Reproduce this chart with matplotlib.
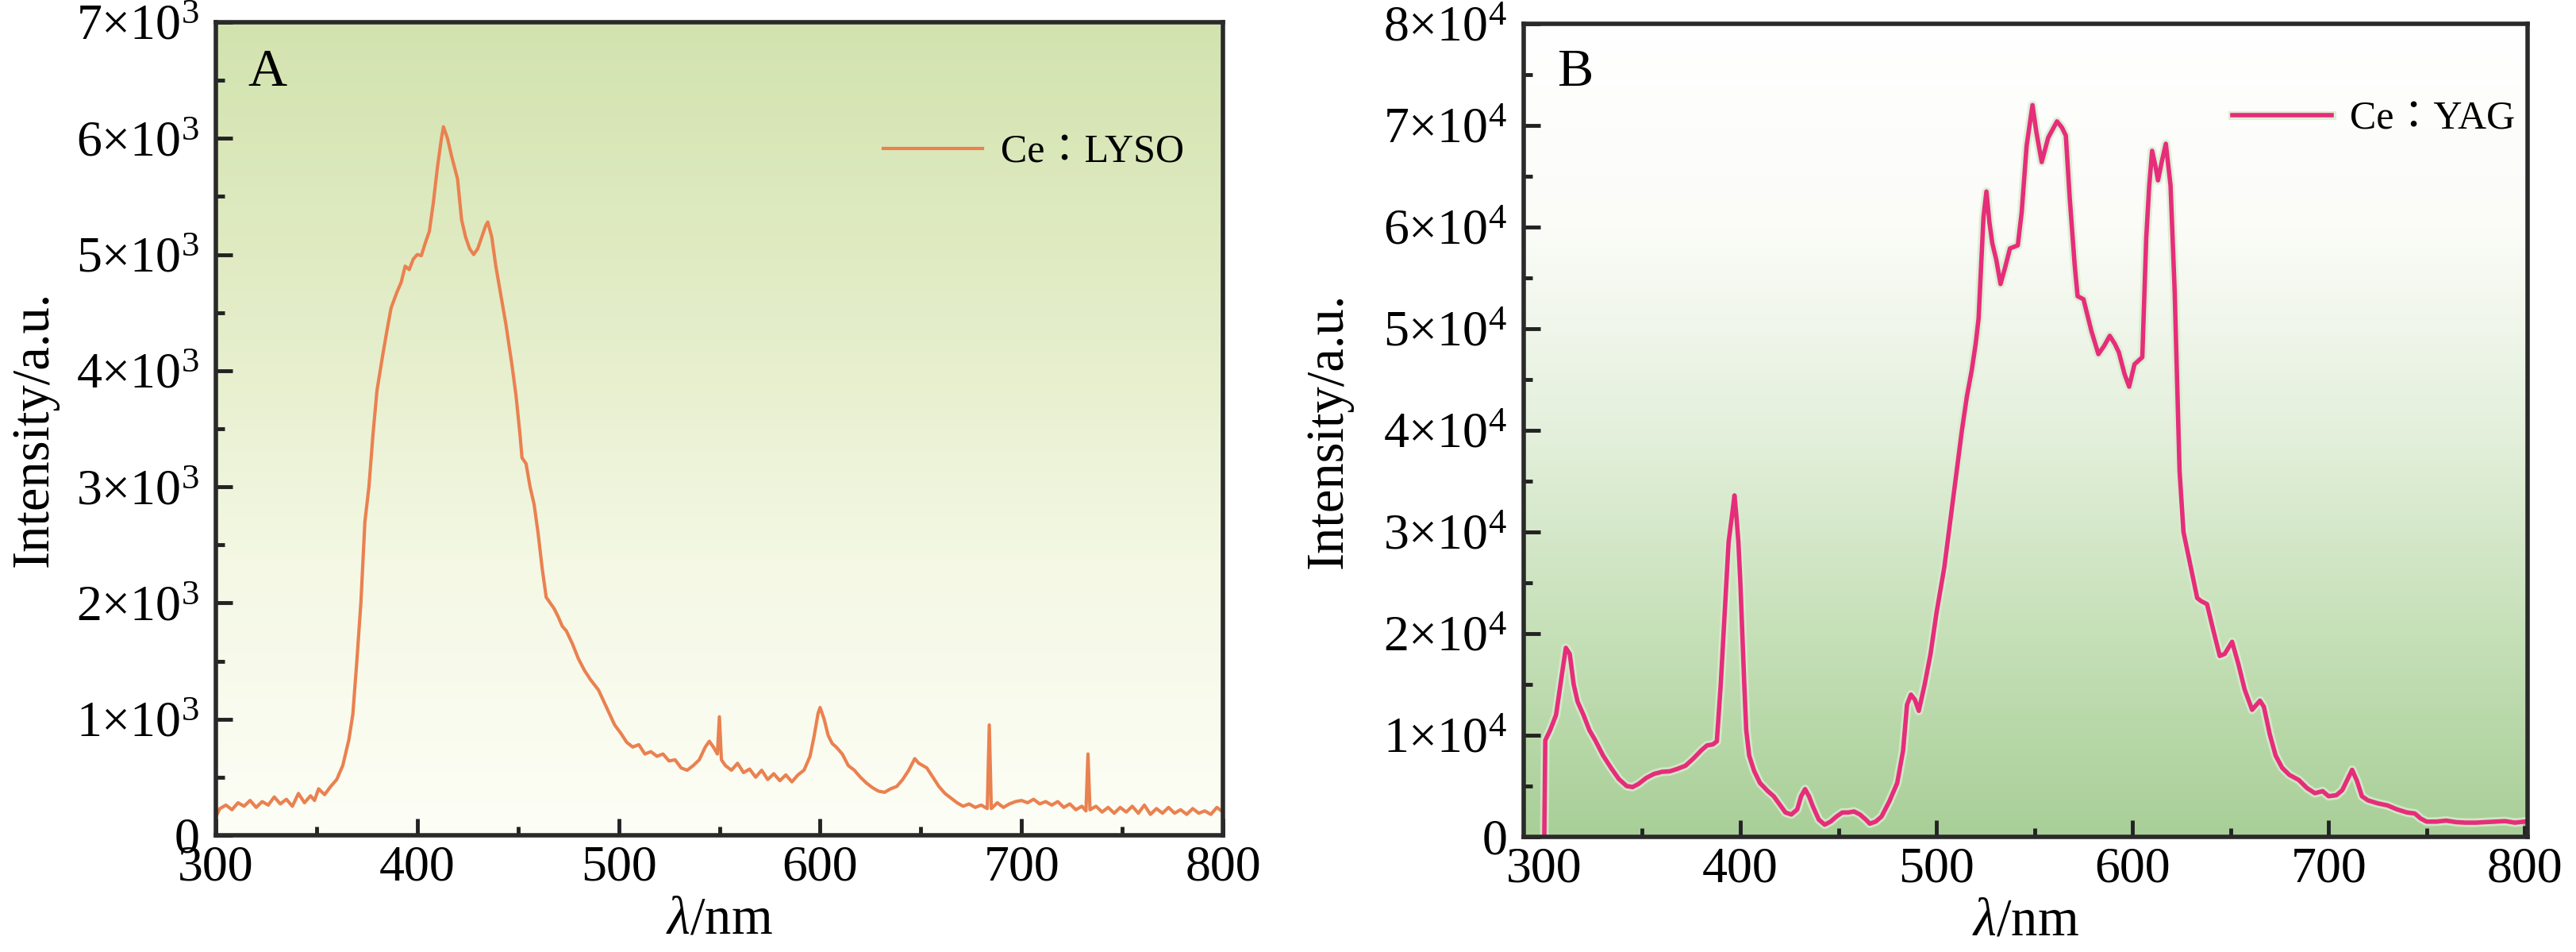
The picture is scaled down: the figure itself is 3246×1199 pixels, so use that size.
import matplotlib
matplotlib.use("Agg")
import matplotlib.pyplot as plt
import matplotlib.patheffects as pe
import numpy as np
from matplotlib.colors import LinearSegmentedColormap
from matplotlib.ticker import MultipleLocator, FuncFormatter

plt.rcParams['font.family'] = ['Liberation Serif', 'Noto Sans CJK TC']
plt.rcParams['mathtext.fontset'] = 'custom'
plt.rcParams['mathtext.rm'] = 'Liberation Serif'
plt.rcParams['mathtext.it'] = 'Liberation Serif:italic'

# panel A: Ce:LYSO emission
lyso_wl = [300, 302, 305, 308, 311, 314, 317, 320, 323, 326, 329, 332, 335, 338, 341, 344, 347, 349,
           351, 354, 357, 360, 363, 366, 368, 370, 372, 374, 376, 378, 380, 383, 385, 387, 390, 392,
           394, 396, 398, 400, 402, 404, 406, 408, 410, 412, 413, 415, 417, 420, 422, 424, 426, 428,
           430, 432, 434, 435, 437, 439, 442, 444, 447, 449, 451, 452, 454, 456, 458, 460, 462, 464,
           466, 468, 470, 472, 474, 477, 480, 483, 486, 490, 494, 498, 501, 504, 507, 510, 513, 516,
           519, 522, 525, 528, 531, 534, 537, 540, 543, 545, 547, 549, 550, 551, 553, 556, 559, 562,
           565, 568, 571, 574, 577, 580, 583, 586, 589, 592, 595, 597, 599, 600, 602, 604, 606, 608,
           611, 614, 617, 620, 623, 626, 629, 632, 635, 638, 641, 644, 647, 649, 651, 653, 656, 659,
           662, 665, 668, 671, 674, 677, 680, 683, 684, 685, 688, 691, 694, 697, 700, 703, 706, 709,
           712, 715, 718, 721, 724, 727, 730, 732, 733, 734, 737, 740, 743, 746, 749, 752, 755, 758,
           761, 764, 767, 770, 773, 776, 779, 782, 785, 788, 791, 794, 797, 800]
lyso_int = [160, 230, 260, 220, 280, 250, 300, 240, 290, 260, 330, 270, 310, 250, 360, 280, 340, 300,
            400, 350, 420, 480, 600, 820, 1040, 1500, 2000, 2700, 3000, 3450, 3830, 4150, 4350, 4540, 4680, 4760,
            4900, 4870, 4960, 5000, 4990, 5100, 5200, 5450, 5750, 6000, 6100, 6000, 5850, 5650, 5300, 5150, 5050, 5000,
            5050, 5150, 5250, 5280, 5150, 4900, 4600, 4400, 4050, 3790, 3450, 3250, 3200, 3000, 2850, 2600, 2300, 2050,
            2000, 1950, 1880, 1800, 1760, 1650, 1520, 1420, 1340, 1250, 1100, 950, 880, 800, 760, 780, 700, 720,
            680, 700, 640, 650, 580, 560, 600, 650, 760, 810, 760, 700, 1020, 650, 600, 560, 620, 540,
            570, 500, 560, 480, 530, 470, 520, 460, 520, 560, 680, 850, 1050, 1100, 1000, 860, 790, 760,
            700, 600, 560, 500, 450, 410, 380, 370, 400, 420, 480, 560, 660, 620, 600, 580, 500, 420,
            360, 320, 280, 250, 270, 240, 260, 230, 950, 230, 280, 240, 270, 290, 300, 280, 310, 270,
            290, 260, 290, 240, 270, 220, 250, 210, 700, 220, 250, 200, 240, 190, 240, 200, 250, 190,
            260, 180, 230, 190, 240, 190, 220, 180, 230, 190, 210, 180, 240, 200]

# panel B: Ce:YAG emission
yag_wl = [300, 300.5, 303, 306, 309, 311, 313, 315, 317, 320, 323, 326, 330, 334, 338, 342, 345, 348,
          352, 356, 360, 364, 368, 372, 376, 380, 383, 386, 388, 390, 392, 394, 396, 397, 398, 399,
          400, 401, 402, 403, 404.5, 407, 410, 414, 417, 420, 423, 426, 429, 431, 433, 435, 437, 440,
          443, 446, 449, 452, 455, 458, 461, 464, 466, 469, 472, 476, 480, 483, 485, 487, 489, 491,
          494, 497, 500, 504, 507, 510, 513, 515.5, 518, 520, 521.5, 522.5, 524, 525.5, 527, 528.5,
          530.5, 532.7, 535, 537.5, 541.5, 543.5, 546, 549, 551, 553.7, 557, 561.5, 564, 566, 568,
          570.5, 572, 575, 579, 582.6, 585.5, 588.4, 591, 593, 596, 598.3, 601, 605, 607, 608.5, 610,
          611.7, 613, 615, 617, 619.4, 621.5, 624, 626, 630, 633, 635, 638, 641, 644.5, 647, 650.8,
          654, 657.2, 661, 665, 667, 670, 673, 676.3, 680, 684.8, 689, 693, 697, 700, 704, 707, 710,
          712, 714.5, 717, 720, 725, 730, 735, 740, 744, 747, 750, 755, 760, 765, 770, 775, 780, 785,
          790, 795, 800]
yag_int = [0, 9500, 10500, 12000, 16000, 18600, 18000, 15000, 13300, 12000, 10500, 9500, 8000, 6800, 5700, 5000, 4900, 5200,
           5800, 6200, 6400, 6450, 6700, 7000, 7700, 8500, 9000, 9100, 9400, 15000, 22000, 29000, 32000, 33600, 31500, 29000,
           25000, 20000, 15000, 10500, 8000, 6500, 5300, 4500, 4000, 3200, 2400, 2200, 2700, 4000, 4700, 4000, 3000, 1700,
           1200, 1500, 2000, 2400, 2400, 2500, 2200, 1700, 1300, 1500, 2000, 3500, 5300, 8500, 13000, 14000, 13500, 12400,
           15000, 18000, 22000, 26500, 31000, 35500, 40000, 43300, 45900, 48500, 51000, 55000, 61000, 63500, 60500, 58400,
           56800, 54400, 56000, 57900, 58200, 61500, 68000, 72000, 69300, 66400, 68800, 70400, 69800, 69000, 62800,
           56300, 53200, 52900, 49800, 47500, 48300, 49300, 48500, 47700, 45500, 44300, 46500, 47200, 58900, 64000, 67500,
           66000, 64600, 66500, 68200, 64100, 53700, 36000, 30000, 26300, 23500, 23200, 22900, 20500, 17800, 18000, 19200,
           17000, 14500, 12500, 13400, 12800, 10100, 8000, 6800, 6100, 5600, 4800, 4300, 4500, 4000, 4100, 4600, 5800,
           6600, 5500, 4000, 3600, 3300, 3100, 2700, 2400, 2300, 1800, 1500, 1500, 1600, 1450, 1400, 1400, 1450, 1500,
           1550, 1400, 1500]

fig = plt.figure(figsize=(32.46, 11.99), dpi=100)
axA = fig.add_axes([272 / 3246, 147 / 1199, 1269 / 3246, 1024 / 1199])
axB = fig.add_axes([1920 / 3246, 145 / 1199, 1265 / 3246, 1024 / 1199])


def background(ax, colors):
    cmap = LinearSegmentedColormap.from_list('bg', colors)
    grad = np.linspace(0, 1, 256).reshape(-1, 1)
    ax.imshow(grad, extent=[0, 1, 0, 1], transform=ax.transAxes, aspect='auto',
              cmap=cmap, origin='lower', zorder=0, interpolation='bicubic')


def style(ax, exp, ymax, ystep, ylab_x):
    ax.set_ylim(0, ymax)
    ax.yaxis.set_major_locator(MultipleLocator(ystep))
    ax.yaxis.set_minor_locator(MultipleLocator(ystep / 2))
    ax.xaxis.set_major_locator(MultipleLocator(100))
    ax.xaxis.set_minor_locator(MultipleLocator(50))
    ax.yaxis.set_major_formatter(FuncFormatter(
        lambda v, p: '0' if v == 0 else '%d×10$^{%d}$' % (round(v / 10 ** exp), exp)))
    ax.xaxis.set_major_formatter(FuncFormatter(lambda v, p: '%d' % v))
    ax.tick_params(which='both', direction='in', top=False, right=False, color='#222222')
    ax.tick_params(which='major', length=15, width=3.5, labelsize=46)
    ax.tick_params(axis='x', which='major', pad=9)
    ax.tick_params(axis='y', which='major', pad=15)
    ax.tick_params(which='minor', length=8, width=3.5)
    for s in ax.spines.values():
        s.set_linewidth(4)
        s.set_color('#2a2a2a')
        s.set_zorder(5)
    ax.set_xlabel(r'$\lambda$/nm', fontsize=48, labelpad=4)
    ax.set_ylabel('Intensity/a.u.', fontsize=48)
    # the label anchor is the right edge of the rotated text
    ax.yaxis.set_label_coords(ylab_x, 0.5)


# panel A
background(axA, ['#fdfef6', '#f4f8e4', '#e2ecc6', '#d3e3af'])
axA.plot(lyso_wl, lyso_int, color='#ea8150', lw=3, label='Ce：LYSO', zorder=3)
axA.set_xlim(300, 800)
style(axA, 3, 7000, 1000, -0.156)
axA.text(0.032, 0.938, 'A', transform=axA.transAxes, fontsize=49, va='center', ha='left')
axA.legend(loc='center left', bbox_to_anchor=(0.663, 0.84), frameon=False, fontsize=36,
           handlelength=2.5, handletextpad=0.45, borderpad=0, borderaxespad=0)

# panel B
background(axB, ['#a9cf98', '#c6e0b8', '#e4f0dc', '#fbfcf8', '#ffffff'])
axB.plot(yag_wl, yag_int, color='#e62d7a', lw=4, label='Ce：YAG', zorder=3,
         path_effects=[pe.Stroke(linewidth=8, foreground='#d8ecce', alpha=0.8), pe.Normal()])
axB.set_xlim(289.5, 801.5)
style(axB, 4, 80000, 10000, -0.17)
axB.text(0.033, 0.94, 'B', transform=axB.transAxes, fontsize=49, va='center', ha='left')
axB.legend(loc='center left', bbox_to_anchor=(0.706, 0.883), frameon=False, fontsize=36,
           handlelength=2.5, handletextpad=0.45, borderpad=0, borderaxespad=0)

fig.savefig('out.png', dpi=100)
